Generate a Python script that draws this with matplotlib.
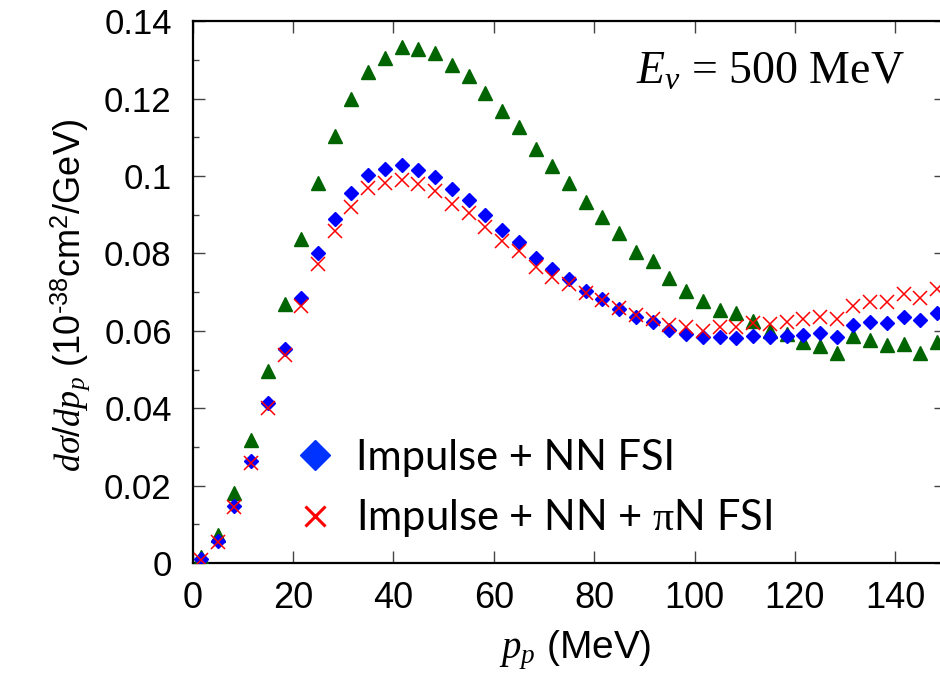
import matplotlib
matplotlib.use('Agg')
import matplotlib.pyplot as plt
from matplotlib.lines import Line2D

# proton momentum bin centres (MeV)
p_p = [1.67, 5.0, 8.33, 11.67, 15.0, 18.33, 21.67, 25.0, 28.33, 31.67,
       35.0, 38.33, 41.67, 45.0, 48.33, 51.67, 55.0, 58.33, 61.67, 65.0,
       68.33, 71.67, 75.0, 78.33, 81.67, 85.0, 88.33, 91.67, 95.0, 98.33,
       101.67, 105.0, 108.33, 111.67, 115.0, 118.33, 121.67, 125.0, 128.33, 131.67,
       135.0, 138.33, 141.67, 145.0, 148.33]

impulse = [0.0015, 0.0072, 0.0182, 0.0318, 0.0497, 0.0670, 0.0837, 0.0983, 0.1103, 0.1198,
           0.1269, 0.1305, 0.1334, 0.1329, 0.1319, 0.1287, 0.1258, 0.1215, 0.1168, 0.1127,
           0.1069, 0.1027, 0.0981, 0.0932, 0.0893, 0.0852, 0.0804, 0.0780, 0.0736, 0.0704,
           0.0676, 0.0654, 0.0647, 0.0626, 0.0600, 0.0592, 0.0570, 0.0560, 0.0542, 0.0586,
           0.0577, 0.0564, 0.0566, 0.0543, 0.0570]

nn_fsi = [0.0010, 0.0058, 0.0147, 0.0264, 0.0413, 0.0553, 0.0684, 0.0800, 0.0888, 0.0955,
          0.1003, 0.1019, 0.1028, 0.1016, 0.0998, 0.0966, 0.0937, 0.0899, 0.0860, 0.0830,
          0.0787, 0.0759, 0.0734, 0.0704, 0.0682, 0.0656, 0.0636, 0.0624, 0.0602, 0.0593,
          0.0583, 0.0585, 0.0581, 0.0587, 0.0585, 0.0587, 0.0589, 0.0594, 0.0583, 0.0614,
          0.0623, 0.0620, 0.0636, 0.0627, 0.0646]

nn_pin_fsi = [0.0008, 0.0055, 0.0144, 0.0258, 0.0400, 0.0537, 0.0664, 0.0774, 0.0859, 0.0921,
              0.0968, 0.0983, 0.0991, 0.0979, 0.0962, 0.0929, 0.0905, 0.0869, 0.0833, 0.0806,
              0.0766, 0.0739, 0.0720, 0.0697, 0.0680, 0.0658, 0.0641, 0.0630, 0.0615, 0.0611,
              0.0600, 0.0609, 0.0609, 0.0619, 0.0618, 0.0624, 0.0630, 0.0636, 0.0630, 0.0665,
              0.0675, 0.0674, 0.0695, 0.0686, 0.0707]

x_ticks = [0, 20, 40, 60, 80, 100, 120, 140]
y_ticks = [0, 0.02, 0.04, 0.06, 0.08, 0.1, 0.12, 0.14]
y_labels = ['0', '0.02', '0.04', '0.06', '0.08', '0.1', '0.12', '0.14']

sans = ['Liberation Sans', 'DejaVu Sans']
plt.rcParams['mathtext.fontset'] = 'custom'
plt.rcParams['mathtext.rm'] = 'Liberation Sans'
plt.rcParams['mathtext.it'] = 'Liberation Serif:italic'
plt.rcParams['mathtext.sf'] = 'Liberation Serif'

fig = plt.figure(figsize=(9.4, 6.77), dpi=100)
W, H = 940, 677
ax = fig.add_axes([192.5 / W, 1 - 563 / H, (945.5 - 192.5) / W, (563 - 21.3) / H])

ax.plot(p_p, impulse, ls='none', marker='^', ms=10, color='#006400', zorder=3)
ax.plot(p_p, nn_fsi, ls='none', marker='D', ms=6.8, color='#0000ff', zorder=4)
ax.plot(p_p, nn_pin_fsi, ls='none', marker='x', ms=10, mew=1.1, color='#ff0000', zorder=5)

ax.set_xlim(0, 150)
ax.set_ylim(0, 0.14)
ax.set_xticks(x_ticks)
ax.set_yticks(y_ticks)
ax.set_yticklabels(y_labels)
ax.set_yticks([0.01, 0.03, 0.05, 0.07, 0.09, 0.11, 0.13], minor=True)

for s in ax.spines.values():
    s.set_linewidth(1.6)
ax.tick_params(which='both', direction='in', top=True, right=True, width=1.0, color='#444444')
ax.tick_params(which='major', length=8.5)
ax.tick_params(which='minor', length=4.5)
ax.tick_params(axis='y', pad=15)
ax.tick_params(axis='x', pad=13)
for lab in ax.get_yticklabels():
    lab.set_fontfamily(sans)
    lab.set_fontsize(25)
for lab in ax.get_xticklabels():
    lab.set_fontfamily(sans)
    lab.set_fontsize(26)

fig.text(70 / W, 1 - 295 / H, '$d\\sigma/dp_p$ (10$^{\u201038}$cm$^2$/GeV)',
         rotation=90, ha='center', va='center', fontsize=26, family=sans)
fig.text(575 / W, 1 - 650 / H, r'$p_p$ (MeV)', ha='center', va='center',
         fontsize=28, family=sans)

fig.text(905 / W, 1 - 72 / H, r'$E_\nu$ = 500 MeV', ha='right', va='center',
         fontsize=33, family='Liberation Serif')

handles = [Line2D([], [], ls='none', marker='D', ms=15, color='#0033ff'),
           Line2D([], [], ls='none', marker='x', ms=14, mew=2.2, color='#ff0000')]
labels = ['Impulse + NN FSI', r'Impulse + NN + $\mathsf{\pi}$N FSI']
ax.legend(handles, labels, loc='center left', bbox_to_anchor=(294 / W, 1 - 489 / H),
          bbox_transform=fig.transFigure, frameon=False, borderpad=0, borderaxespad=0,
          handlelength=1.0, handletextpad=0.5, labelspacing=0.5,
          prop={'family': 'Lato', 'size': 30})

fig.savefig('out.png', dpi=100)
